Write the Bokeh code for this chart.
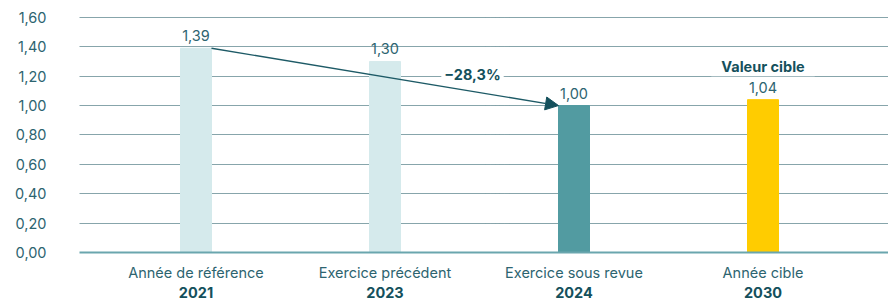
from bokeh.plotting import figure
from bokeh.models import (FixedTicker, LinearAxis, Label, LabelSet, Arrow,
                          NormalHead, ColumnDataSource, Range1d)
from bokeh.core.properties import value
from bokeh.embed import file_html
from bokeh.resources import INLINE

categories = ["Année de référence", "Exercice précédent", "Exercice sous revue", "Année cible"]
years = ["2021", "2023", "2024", "2030"]
values = [1.39, 1.30, 1.00, 1.04]
value_labels = ["1,39", "1,30", "1,00", "1,04"]
bar_colors = ["#d5eaec", "#d5eaec", "#529ba1", "#ffcc00"]
y_ticks = [0.0, 0.2, 0.4, 0.6, 0.8, 1.0, 1.2, 1.4, 1.6]
y_tick_labels = ["0,00", "0,20", "0,40", "0,60", "0,80", "1,00", "1,20", "1,40", "1,60"]
change_label = "\u221228,3%"
target_label = "Valeur cible"

FONT = "Inter"
FS = "14.5px"
TXT = "#2d6470"
DARK = "#14505c"

xs = list(range(len(categories)))
src = ColumnDataSource(dict(x=xs, top=values, label=value_labels, color=bar_colors))

p = figure(width=888, height=300, output_backend="svg", toolbar_location=None,
           x_range=Range1d(-0.6164, 3.664), y_range=Range1d(0, 1.715),
           min_border_left=79, min_border_right=0, min_border_top=0, min_border_bottom=47)
p.outline_line_color = None
p.xgrid.grid_line_color = None
p.ygrid.ticker = FixedTicker(ticks=y_ticks)
p.ygrid.grid_line_color = "#0f4a56"
p.ygrid.grid_line_dash = "1 1"
p.ygrid.grid_line_width = 1

p.vbar(x="x", top="top", width=0.164, color="color", source=src)

p.add_layout(LabelSet(x="x", y="top", text="label", source=src, text_align="center",
                      text_baseline="alphabetic", y_offset=7, text_font=value(FONT),
                      text_font_size=value(FS), text_color=value(TXT)))

# y axis
ya = p.yaxis[0]
ya.ticker = FixedTicker(ticks=y_ticks)
ya.major_label_overrides = dict(zip(y_ticks, y_tick_labels))
ya.axis_line_color = None
ya.major_tick_line_color = None
ya.minor_tick_line_color = None
ya.major_label_standoff = 27
ya.major_label_text_font = FONT
ya.major_label_text_font_size = FS
ya.major_label_text_color = TXT

# x axis (category names)
xa = p.xaxis[0]
xa.ticker = FixedTicker(ticks=xs)
xa.major_label_overrides = dict(zip(xs, categories))
xa.axis_line_color = "#6aa6ae"
xa.axis_line_width = 2
xa.major_tick_line_color = None
xa.minor_tick_line_color = None
xa.major_label_standoff = 5
xa.major_label_text_font = FONT
xa.major_label_text_font_size = FS
xa.major_label_text_color = TXT

# x axis (years, bold)
xa2 = LinearAxis(ticker=FixedTicker(ticks=xs), major_label_overrides=dict(zip(xs, years)))
xa2.axis_line_color = None
xa2.major_tick_line_color = None
xa2.minor_tick_line_color = None
xa2.major_label_standoff = -3
xa2.major_label_text_font = FONT
xa2.major_label_text_font_size = FS
xa2.major_label_text_font_style = "bold"
xa2.major_label_text_color = DARK
p.add_layout(xa2, "below")

# arrow between reference year and current year
hw = 0.082
p.add_layout(Arrow(end=NormalHead(size=13, fill_color=DARK, line_color=DARK),
                   x_start=xs[0] + hw, y_start=values[0], x_end=xs[2] - hw, y_end=values[2],
                   line_color="#1d5a66", line_width=1.3))

p.add_layout(Label(x=1.463, y=1.214, text=change_label, text_align="center",
                   text_baseline="middle", text_font=FONT, text_font_size=FS,
                   text_font_style="bold", text_color=DARK,
                   background_fill_color="white", padding=(3, 1)))

p.add_layout(Label(x=xs[3], y=values[3], y_offset=33, text=target_label, text_align="center",
                   text_baseline="alphabetic", text_font=FONT, text_font_size=FS,
                   text_font_style="bold", text_color=DARK,
                   background_fill_color="white", padding=(10, 1)))

open("out.html", "w").write(file_html(p, INLINE))
